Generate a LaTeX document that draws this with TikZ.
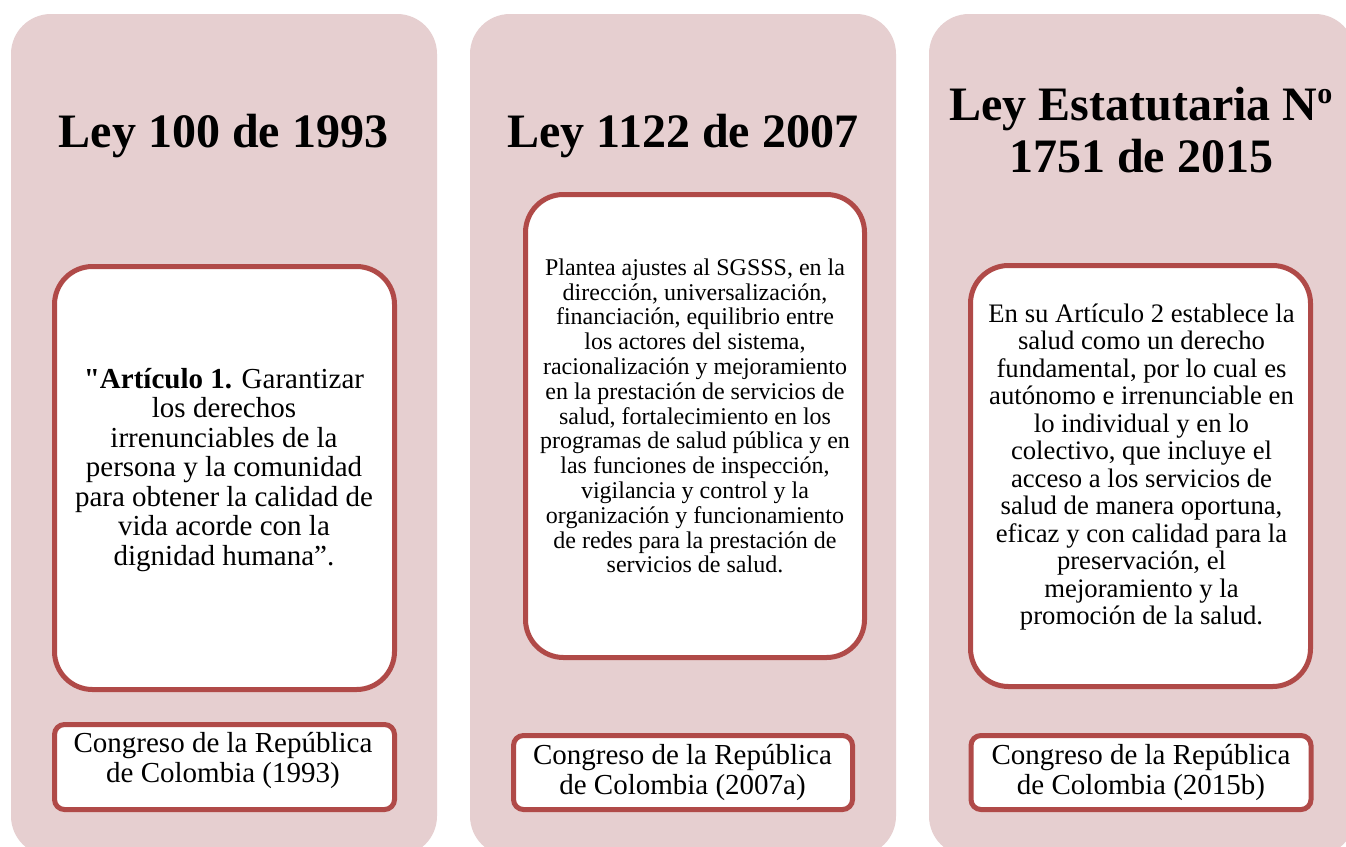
\documentclass[tikz,border=0pt]{standalone}
\usepackage{fontspec}
\setmainfont{Liberation Serif}
\newfontfamily\serifplain{Liberation Serif}
\definecolor{pinkbg}{RGB}{230,207,208}
\definecolor{redline}{RGB}{176,74,72}
\tikzset{
  panel/.style={fill=pinkbg, draw=none, rounded corners=40pt, minimum width=426pt, minimum height=842pt, inner sep=0pt},
  bodybox/.style={fill=white, draw=redline, line width=5pt, rounded corners=38pt, inner sep=0pt},
  citebox/.style={fill=white, draw=redline, line width=5pt, rounded corners=10pt, inner sep=0pt, minimum width=340pt},
  titletext/.style={align=center, inner sep=0pt, font=\bfseries\fontsize{48}{52}\selectfont},
  citetext/.style={align=center, inner sep=0pt, font=\fontsize{29}{30}\selectfont},
}
\begin{document}
\begin{tikzpicture}[x=1pt, y=-1pt]
\useasboundingbox (0,0) rectangle (1346,846);
\fill[white] (0,0) rectangle (1346,846);
\clip (0,0) rectangle (1346,846);

% panels
\node[panel] (p1) at (224,435) {};
\node[panel] (p2) at (683,435) {};
\node[panel] (p3) at (1142,435) {};

% titles
\node[titletext] (t1) at (223.5,135.7) {Ley 100 de 1993};
\node[titletext] (t2) at (683,135.7) {Ley 1122 de 2007};
\node[titletext] (t3) at (1141,129.8) {Ley Estatutaria N\raisebox{17pt}{\fontsize{30}{30}\selectfont o}\\1751 de 2015};

% body boxes
\node[bodybox, minimum width=340pt, minimum height=423pt] (b1) at (224.5,478) {};
\node[bodybox, minimum width=339pt, minimum height=463pt] (b2) at (695,426) {};
\node[bodybox, minimum width=340pt, minimum height=421pt] (b3) at (1140.5,476) {};

% body texts
\node[align=center, inner sep=0pt, font=\fontsize{29}{29.5}\selectfont] (x1) at (224,470)
  {\textbf{{\serifplain"}Artículo 1.} Garantizar\\los derechos\\irrenunciables de la\\persona y la comunidad\\para obtener la calidad de\\vida acorde con la\\dignidad humana”.};
\node[align=center, inner sep=0pt, font=\fontsize{24}{24.8}\selectfont] (x2) at (695,416)
  {Plantea ajustes al SGSSS, en la\\dirección, universalización,\\financiación, equilibrio entre\\los actores del sistema,\\racionalización y mejoramiento\\en la prestación de servicios de\\salud, fortalecimiento en los\\programas de salud pública y en\\las funciones de inspección,\\vigilancia y control y la\\organización y funcionamiento\\de redes para la prestación de\\servicios de salud.};
\node[align=center, inner sep=0pt, font=\fontsize{26.7}{27.5}\selectfont] (x3) at (1141.5,467.3)
  {En su Artículo 2 establece la\\salud como un derecho\\fundamental, por lo cual es\\autónomo e irrenunciable en\\lo individual y en lo\\colectivo, que incluye el\\acceso a los servicios de\\salud de manera oportuna,\\eficaz y con calidad para la\\preservación, el\\mejoramiento y la\\promoción de la salud.};

% citation boxes
\node[citebox, minimum height=85pt] (c1) at (224.5,767) {};
\node[citebox, minimum width=339pt, minimum height=74pt] (c2) at (683,772.5) {};
\node[citebox, minimum height=74pt] (c3) at (1141,772.5) {};

\node[citetext] (ct1) at (223,760.7) {Congreso de la República\\de Colombia (1993)};
\node[citetext] (ct2) at (682.5,772.7) {Congreso de la República\\de Colombia (2007a)};
\node[citetext] (ct3) at (1141,772.7) {Congreso de la República\\de Colombia (2015b)};
\end{tikzpicture}
\end{document}
